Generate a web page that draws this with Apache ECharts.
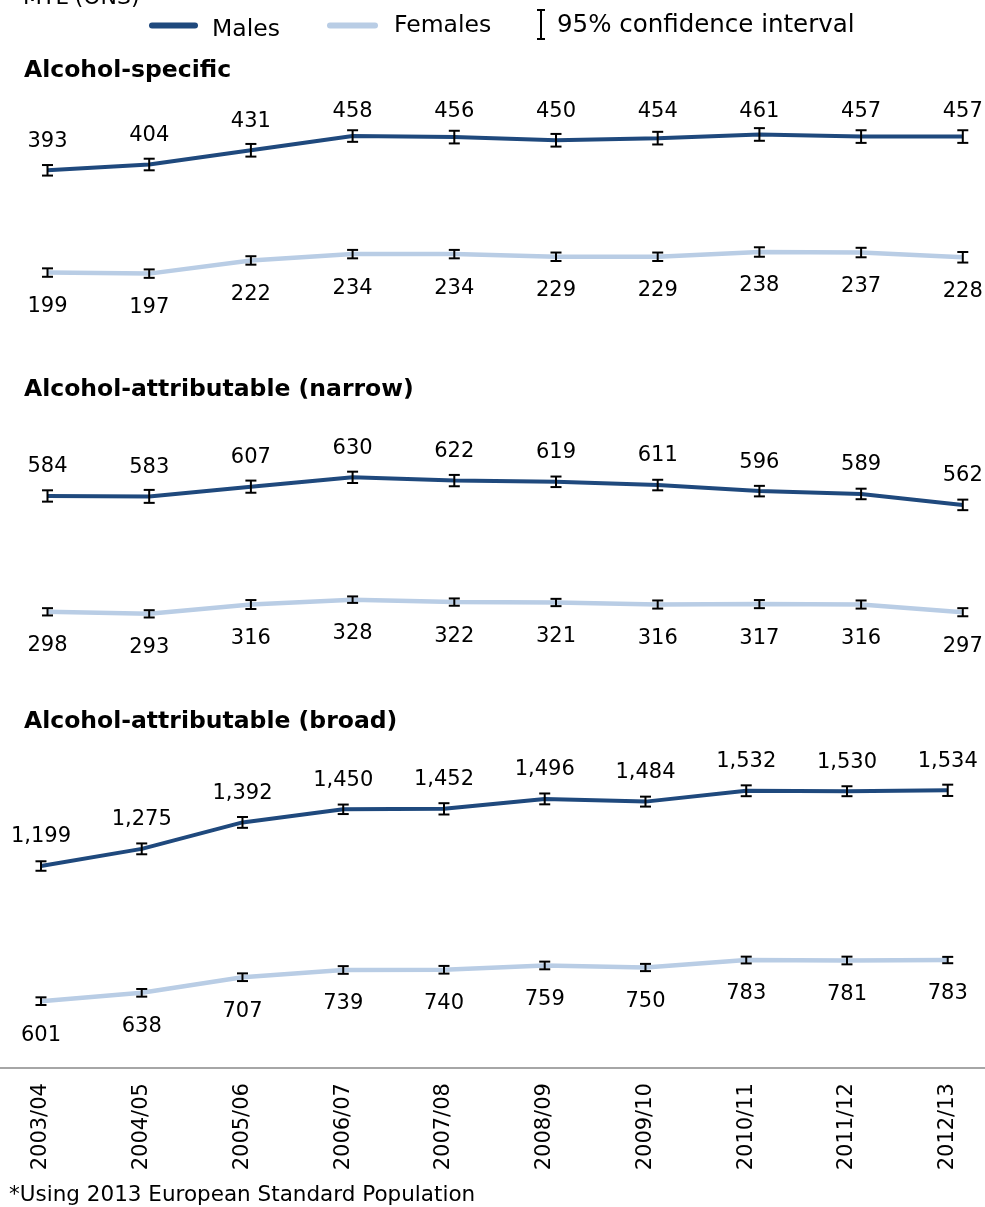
<!DOCTYPE html>
<html>
<head>
<meta charset="utf-8">
<script src="https://cdn.jsdelivr.net/npm/echarts@6.0.0/dist/echarts.min.js"></script>
<style>
  html, body { margin: 0; padding: 0; background: #ffffff; }
  #chart { width: 985px; height: 1207px; }
</style>
</head>
<body>
<div id="chart"></div>
<script>
// Financial years on the shared x axis
const categories = ['2003/04', '2004/05', '2005/06', '2006/07', '2007/08',
                    '2008/09', '2009/10', '2010/11', '2011/12', '2012/13'];

// Alcohol-specific
const specificMales       = [393, 404, 431, 458, 456, 450, 454, 461, 457, 457];
const specificMalesLow    = [383, 393, 419, 447, 444, 438, 442, 449, 445, 445];
const specificMalesHigh   = [403, 415, 443, 469, 468, 462, 466, 473, 469, 469];
const specificFemales     = [199, 197, 222, 234, 234, 229, 229, 238, 237, 228];
const specificFemalesLow  = [191, 189, 214, 226, 226, 221, 221, 229, 228, 218];
const specificFemalesHigh = [207, 205, 230, 242, 242, 237, 237, 247, 246, 238];

// Alcohol-attributable (narrow)
const narrowMales       = [584, 583, 607, 630, 622, 619, 611, 596, 589, 562];
const narrowMalesLow    = [570, 567, 592, 616, 608, 606, 598, 583, 576, 549];
const narrowMalesHigh   = [598, 599, 622, 644, 636, 632, 624, 609, 602, 575];
const narrowFemales     = [298, 293, 316, 328, 322, 321, 316, 317, 316, 297];
const narrowFemalesLow  = [289, 284, 305, 320, 313, 312, 306, 307, 306, 287];
const narrowFemalesHigh = [307, 302, 327, 336, 331, 330, 326, 327, 326, 307];

// Alcohol-attributable (broad)
const broadMales       = [1199, 1275, 1392, 1450, 1452, 1496, 1484, 1532, 1530, 1534];
const broadMalesLow    = [1178, 1251, 1368, 1429, 1427, 1472, 1462, 1508, 1508, 1509];
const broadMalesHigh   = [1220, 1299, 1416, 1471, 1477, 1520, 1506, 1556, 1552, 1559];
const broadFemales     = [601, 638, 707, 739, 740, 759, 750, 783, 781, 783];
const broadFemalesLow  = [584, 621, 690, 722, 723, 742, 734, 768, 764, 769];
const broadFemalesHigh = [618, 655, 724, 756, 757, 776, 766, 798, 798, 797];

const MALE_COLOR = '#1F497D';
const FEMALE_COLOR = '#B9CDE5';
const FONT = '"DejaVu Sans", Verdana, sans-serif';

function fmt(v) {
  return String(v).replace(/\B(?=(\d{3})+(?!\d))/g, ',');
}

// Vertical 95% CI bar with caps
function ciRender(params, api) {
  const i = api.value(0);
  const lo = api.coord([i, api.value(1)]);
  const hi = api.coord([i, api.value(2)]);
  const cw = 5.5;
  const st = { stroke: '#000000', lineWidth: 2, fill: null };
  return {
    type: 'group',
    children: [
      { type: 'line', shape: { x1: lo[0], y1: lo[1], x2: hi[0], y2: hi[1] }, style: st },
      { type: 'line', shape: { x1: lo[0] - cw, y1: lo[1], x2: lo[0] + cw, y2: lo[1] }, style: st },
      { type: 'line', shape: { x1: hi[0] - cw, y1: hi[1], x2: hi[0] + cw, y2: hi[1] }, style: st }
    ]
  };
}

// Value label placed above (negative offset) or below a point, kept below a ceiling
function labelRender(offset, minY) {
  return function (params, api) {
    const v = api.value(1);
    const p = api.coord([api.value(0), v]);
    let y = p[1] + offset;
    if (minY != null) y = Math.max(y, minY);
    return {
      type: 'text',
      x: p[0],
      y: y,
      style: {
        text: fmt(v),
        fill: '#000000',
        font: '21px ' + FONT,
        align: 'center',
        verticalAlign: 'middle'
      }
    };
  };
}

function panelSeries(idx, males, malesLow, malesHigh, females, femalesLow, femalesHigh, maleCeil) {
  const ci = (lo, hi) => categories.map((c, i) => [i, lo[i], hi[i]]);
  const pts = (arr) => categories.map((c, i) => [i, arr[i]]);
  return [
    {
      type: 'line', name: 'Females', xAxisIndex: idx, yAxisIndex: idx,
      data: females, symbol: 'none', z: 2,
      lineStyle: { color: FEMALE_COLOR, width: 4.5 }
    },
    {
      type: 'line', name: 'Males', xAxisIndex: idx, yAxisIndex: idx,
      data: males, symbol: 'none', z: 2,
      lineStyle: { color: MALE_COLOR, width: 4 }
    },
    {
      type: 'custom', xAxisIndex: idx, yAxisIndex: idx, z: 3,
      renderItem: ciRender, data: ci(malesLow, malesHigh), encode: { x: 0, y: [1, 2] }
    },
    {
      type: 'custom', xAxisIndex: idx, yAxisIndex: idx, z: 3,
      renderItem: ciRender, data: ci(femalesLow, femalesHigh), encode: { x: 0, y: [1, 2] }
    },
    {
      type: 'custom', xAxisIndex: idx, yAxisIndex: idx, z: 4, clip: false,
      renderItem: labelRender(-29, maleCeil), data: pts(males), encode: { x: 0, y: 1 }
    },
    {
      type: 'custom', xAxisIndex: idx, yAxisIndex: idx, z: 4, clip: false,
      renderItem: labelRender(34, null), data: pts(females), encode: { x: 0, y: 1 }
    }
  ];
}

const hiddenX = (idx) => ({
  type: 'category', gridIndex: idx, data: categories, boundaryGap: true, show: false
});

const chart = echarts.init(document.getElementById('chart'), null, { renderer: 'canvas' });

chart.setOption({
  animation: false,
  backgroundColor: '#ffffff',
  textStyle: { fontFamily: FONT },
  grid: [
    { left: -3.35, width: 1017, top: 113.9, height: 184.5, outerBoundsMode: 'none', containLabel: false },
    { left: -3.35, width: 1017, top: 449, height: 202.5, outerBoundsMode: 'none', containLabel: false },
    { left: -9.4, width: 1007.5, top: 752.8, height: 293.8, outerBoundsMode: 'none', containLabel: false }
  ],
  xAxis: [
    hiddenX(0),
    hiddenX(1),
    {
      type: 'category', gridIndex: 2, data: categories, boundaryGap: true,
      offset: 21.5,
      axisLine: { show: true, lineStyle: { color: '#a6a6a6', width: 2 } },
      axisTick: { show: false },
      axisLabel: {
        rotate: 90, margin: 15, color: '#000000',
        fontSize: 21, fontFamily: FONT, interval: 0
      }
    }
  ],
  yAxis: [
    { type: 'value', gridIndex: 0, min: 150, max: 500, show: false },
    { type: 'value', gridIndex: 1, min: 200, max: 700, show: false },
    { type: 'value', gridIndex: 2, min: 400, max: 1700, show: false }
  ],
  series: [].concat(
    panelSeries(0, specificMales, specificMalesLow, specificMalesHigh,
                specificFemales, specificFemalesLow, specificFemalesHigh, 112),
    panelSeries(1, narrowMales, narrowMalesLow, narrowMalesHigh,
                narrowFemales, narrowFemalesLow, narrowFemalesHigh, null),
    panelSeries(2, broadMales, broadMalesLow, broadMalesHigh,
                broadFemales, broadFemalesLow, broadFemalesHigh, null)
  ),
  graphic: [
    { type: 'text', x: 23, y: -1.5, style: { text: 'MTL (ONS)', font: '22px ' + FONT, fill: '#000', verticalAlign: 'middle' } },
    // legend
    { type: 'line', shape: { x1: 152, y1: 25.5, x2: 195, y2: 25.5 }, style: { stroke: MALE_COLOR, lineWidth: 6, lineCap: 'round' } },
    { type: 'text', x: 212, y: 30, style: { text: 'Males', font: '23.5px ' + FONT, fill: '#000', verticalAlign: 'middle' } },
    { type: 'line', shape: { x1: 330, y1: 25.5, x2: 375, y2: 25.5 }, style: { stroke: FEMALE_COLOR, lineWidth: 6, lineCap: 'round' } },
    { type: 'text', x: 394, y: 26, style: { text: 'Females', font: '23.5px ' + FONT, fill: '#000', verticalAlign: 'middle' } },
    { type: 'line', shape: { x1: 541, y1: 10, x2: 541, y2: 39 }, style: { stroke: '#000', lineWidth: 2 } },
    { type: 'line', shape: { x1: 537, y1: 10, x2: 545, y2: 10 }, style: { stroke: '#000', lineWidth: 2 } },
    { type: 'line', shape: { x1: 537, y1: 39, x2: 545, y2: 39 }, style: { stroke: '#000', lineWidth: 2 } },
    { type: 'text', x: 557, y: 26, style: { text: '95% confidence interval', font: '24.5px ' + FONT, fill: '#000', verticalAlign: 'middle' } },
    // panel titles
    { type: 'text', x: 24, y: 71, style: { text: 'Alcohol-specific', font: 'bold 23.5px ' + FONT, fill: '#000', verticalAlign: 'middle' } },
    { type: 'text', x: 24, y: 390, style: { text: 'Alcohol-attributable (narrow)', font: 'bold 23.5px ' + FONT, fill: '#000', verticalAlign: 'middle' } },
    { type: 'text', x: 24, y: 722, style: { text: 'Alcohol-attributable (broad)', font: 'bold 23.5px ' + FONT, fill: '#000', verticalAlign: 'middle' } },
    // footnote
    { type: 'text', x: 9, y: 1195, style: { text: '*Using 2013 European Standard Population', font: '21.5px ' + FONT, fill: '#000', verticalAlign: 'middle' } }
  ]
});
</script>
</body>
</html>
